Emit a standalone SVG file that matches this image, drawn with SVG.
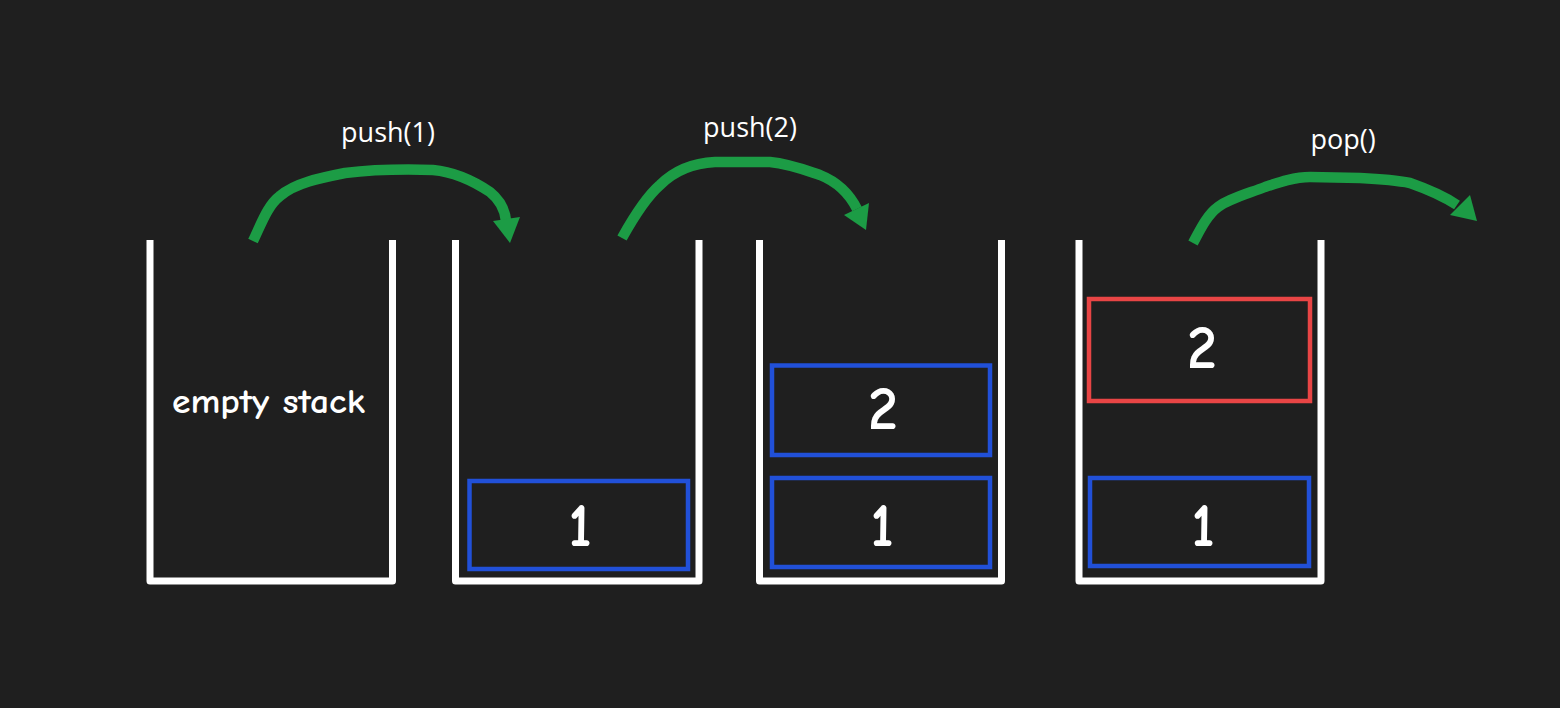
<svg xmlns="http://www.w3.org/2000/svg" width="1560" height="708" viewBox="0 0 1560 708">
<style>
.stack{fill:none;stroke:#ffffff;stroke-width:7;stroke-linejoin:round;stroke-linecap:butt}
.blue{fill:none;stroke:#2150d8;stroke-width:4.5}
.red{fill:none;stroke:#e84545;stroke-width:4.5}
.num{font-family:"Comic Sans MS","Comic Neue","DejaVu Sans",sans-serif;font-size:60px;font-weight:bold;fill:#ffffff;text-anchor:middle}
.hand{font-family:"Comic Sans MS","Comic Neue","DejaVu Sans",sans-serif;font-size:34px;font-weight:bold;fill:#ffffff;text-anchor:middle}
.lbl{font-family:"Open Sans","Liberation Sans",sans-serif;font-size:27px;font-weight:500;fill:#ffffff;text-anchor:middle}
.arc{fill:none;stroke:#1c9c45;stroke-width:10.5;stroke-linecap:butt;stroke-linejoin:round}
.head{fill:#1c9c45}
</style>
<rect width="1560" height="708" fill="#1f1f1f"/>
<g id="stack-empty">
<path class="stack" d="M150,240 V581 H392.5 V240"/>
<text class="hand" x="268.5" y="413" textLength="193" lengthAdjust="spacingAndGlyphs">empty stack</text>
</g>
<g id="stack-push1">
<path class="stack" d="M455.5,240 V581 H699 V240"/>
<g id="s2-item1">
<rect class="blue" x="469.5" y="481" width="218.5" height="88"/>
<text class="num" x="580" y="546">1</text>
</g>
</g>
<g id="stack-push2">
<path class="stack" d="M759.5,240 V581 H1001.5 V240"/>
<g id="s3-item2">
<rect class="blue" x="772" y="365.5" width="218" height="89.5"/>
<text class="num" x="883" y="429">2</text>
</g>
<g id="s3-item1">
<rect class="blue" x="772" y="478" width="218" height="89"/>
<text class="num" x="882" y="546">1</text>
</g>
</g>
<g id="stack-pop">
<path class="stack" d="M1079,240 V581 H1321 V240"/>
<g id="s4-item2">
<rect class="red" x="1089" y="299" width="221" height="102"/>
<text class="num" x="1202" y="368">2</text>
</g>
<g id="s4-item1">
<rect class="blue" x="1090" y="478" width="219" height="88"/>
<text class="num" x="1203" y="546">1</text>
</g>
</g>
<g id="connectors">
<path class="arc" d="M253,241 C262,222 268,205 280,196 C295,183 320,178 345,173 C370,170 400,169 433,170 C455,172 475,182 490,192 C500,200 505,210 506,221"/>
<polygon class="head" points="493,221 520,217 510,243"/>
<text class="lbl" x="388" y="142">push(1)</text>
<path class="arc" d="M622,238 C632,220 645,198 660,185 C675,170 695,163 715,162 L770,162 C790,164 805,170 820,175 C840,183 850,195 857,209"/>
<polygon class="head" points="844,215 869,203 866,230"/>
<text class="lbl" x="750" y="137">push(2)</text>
<path class="arc" d="M1193,243 C1200,230 1207,215 1218,207 C1230,198 1250,193 1265,187 C1280,182 1295,177 1310,177 L1360,178 C1380,179 1400,181 1410,183 C1430,190 1445,197 1457,205"/>
<polygon class="head" points="1450,215 1470,195 1477,221"/>
<text class="lbl" x="1343" y="149">pop()</text>
</g>
</svg>
